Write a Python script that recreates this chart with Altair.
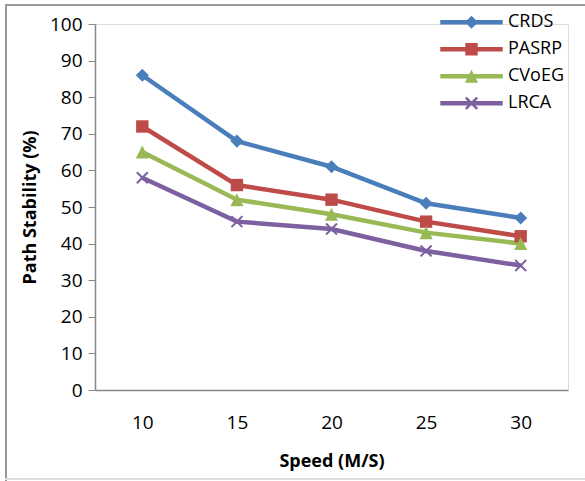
import altair as alt
import pandas as pd
import numpy as np

speeds = ["10", "15", "20", "25", "30"]
series_names = ["CRDS", "PASRP", "CVoEG", "LRCA"]
crds = [86, 68, 61, 51, 47]
pasrp = [72, 56, 52, 46, 42]
cvoeg = [65, 52, 48, 43, 40]
lrca = [58, 46, 44, 38, 34]
colors = ["#4A7EBB", "#BE4B48", "#98B954", "#7D60A0"]

rows = []
for name, vals in zip(series_names, [crds, pasrp, cvoeg, lrca]):
    for s, v in zip(speeds, vals):
        rows.append({"speed": s, "value": v, "series": name})
df = pd.DataFrame(rows)

# ---- marker shapes (unit coords -1..1) ----
def fmt(pts):
    return "M" + "L".join(f"{x:.3f},{y:.3f}" for x, y in pts) + "Z"

def x_poly(scale, w):
    plus = [(-w, -1), (w, -1), (w, -w), (1, -w), (1, w), (w, w), (w, 1), (-w, 1),
            (-w, w), (-1, w), (-1, -w), (-w, -w)]
    r = [((x - y) / np.sqrt(2), (x + y) / np.sqrt(2)) for x, y in plus]
    mx = max(max(abs(a), abs(b)) for a, b in r)
    return [(a / mx * scale, b / mx * scale) for a, b in r]

def diamond(m):
    return [(0, -m), (m, 0), (0, m), (-m, 0)]

def square(m):
    return [(-m, -m), (m, -m), (m, m), (-m, m)]

def tri(m):
    return [(0, -m), (m, m), (-m, m)]

marker_paths = [fmt(diamond(1)), fmt(square(0.95)), fmt(tri(1)), fmt(x_poly(0.95, 0.13))]

t = 0.07
lm = 0.21
line_rect = fmt([(-1, -t), (1, -t), (1, t), (-1, t)])
legend_paths = [
    line_rect + fmt(diamond(lm)),
    line_rect + fmt(square(lm * 0.95)),
    line_rect + fmt(tri(lm)),
    line_rect + fmt(x_poly(lm, 0.16)),
]

xenc = alt.X("speed:O", sort=speeds,
             scale=alt.Scale(type="point", padding=0.5),
             axis=alt.Axis(title="Speed (M/S)", labelAngle=0, ticks=False,
                           domainColor="#888888", domainWidth=1.5,
                           labelFont="Open Sans", labelFontSize=19, labelColor="black",
                           labelPadding=23,
                           titleFont="Open Sans", titleFontSize=18, titleFontWeight="bold",
                           titleColor="black", titlePadding=20))
yenc = alt.Y("value:Q",
             scale=alt.Scale(domain=[0, 100]),
             axis=alt.Axis(title="Path Stability (%)", values=list(range(0, 101, 10)),
                           grid=False, tickSize=7, tickColor="#888888",
                           domainColor="#888888", domainWidth=1.5,
                           labelFont="Open Sans", labelFontSize=19, labelColor="black",
                           labelPadding=6,
                           titleFont="Open Sans", titleFontSize=18, titleFontWeight="bold",
                           titleColor="black", titlePadding=10))

cscale = alt.Scale(domain=series_names, range=colors)

lines = alt.Chart(df).mark_line(strokeWidth=4.5).encode(
    x=xenc, y=yenc,
    color=alt.Color("series:N", scale=cscale, legend=None),
    detail="series:N",
)

points = alt.Chart(df).mark_point(filled=True, opacity=1, size=170).encode(
    x=xenc, y=yenc,
    color=alt.Color("series:N", scale=cscale, legend=None),
    shape=alt.Shape("series:N", scale=alt.Scale(domain=series_names, range=marker_paths),
                    legend=None),
)

leg = alt.Legend(title=None, orient="none", legendX=345, legendY=-15,
                 labelFont="Open Sans", labelFontSize=18, labelColor="black",
                 rowPadding=0, labelOffset=5, symbolSize=3900, clipHeight=26.5,
                 symbolStrokeWidth=0)

legend_layer = alt.Chart(df).transform_filter("false").mark_point(
    filled=True, opacity=1, size=3900).encode(
    x=xenc, y=yenc,
    color=alt.Color("series:N", scale=cscale, legend=leg),
    shape=alt.Shape("series:N", scale=alt.Scale(domain=series_names, range=legend_paths),
                    legend=leg),
)

border_left = alt.Chart(df).mark_rule(color="#999999", strokeWidth=2).encode(
    x=alt.value(-89), y=alt.value(-20), y2=alt.value(460))
border_top = alt.Chart(df).mark_rule(color="#999999", strokeWidth=2).encode(
    x=alt.value(-90), x2=alt.value(500), y=alt.value(-19))
border_bottom = alt.Chart(df).mark_rule(color="#dddddd", strokeWidth=1).encode(
    x=alt.value(-90), x2=alt.value(500), y=alt.value(455))

chart = alt.layer(lines, points, legend_layer, border_left, border_top, border_bottom).resolve_scale(
    color="independent", shape="independent"
).properties(
    width=473, height=366,
    autosize=alt.AutoSizeParams(type="none"),
    padding={"left": 95, "top": 24, "right": 17, "bottom": 91},
).configure_view(stroke=None).configure(background="white")

chart.save("out.html", embed_options={"renderer": "svg", "actions": False})
